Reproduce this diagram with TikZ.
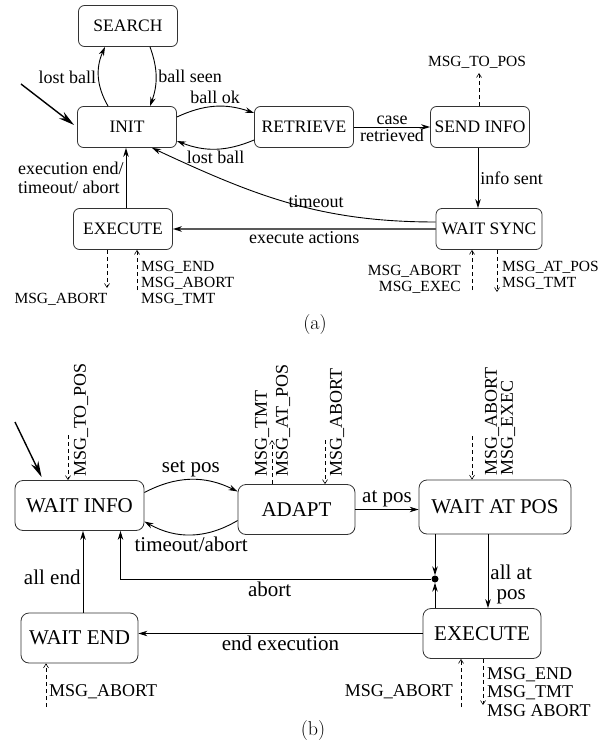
\documentclass[tikz,border=0pt]{standalone}
\usepackage{fontspec}
\newfontfamily\tms{Liberation Serif}
\usetikzlibrary{arrows.meta}

\begin{document}
\begin{tikzpicture}[
    x=1pt, y=-1pt,
    stateA/.style={draw=black!80, line width=0.8pt, rounded corners=6pt, minimum width=99pt, minimum height=41pt, inner xsep=1pt, font=\tms\fontsize{17.5}{20}\selectfont},
    stateB/.style={draw=black!80, line width=0.8pt, rounded corners=8pt, minimum height=50pt, inner xsep=1pt, font=\tms\fontsize{21}{24}\selectfont},
    lblA/.style={inner sep=2pt, font=\tms\fontsize{18}{18.5}\selectfont},
    lblB/.style={inner sep=2pt, font=\tms\fontsize{21}{19.5}\selectfont},
    msgA/.style={inner sep=0pt, font=\tms\fontsize{15.5}{16}\selectfont},
    msgB/.style={inner sep=0pt, font=\tms\fontsize{18}{18.5}\selectfont},
    arrow/.style={-{Stealth[length=9pt, width=5.5pt]}, line width=0.9pt},
    heavy/.style={-{Stealth[length=9pt, width=5.5pt, color=black]}, line width=1.4pt, draw=black!65},
    start/.style={-{Stealth[length=16pt, width=8pt]}, line width=1.4pt},
    msg/.style={-{Straight Barb[length=4pt, width=5pt]}, dash pattern=on 4pt off 3pt, line width=0.6pt},
    joint/.style={circle, fill, inner sep=0pt, minimum size=7pt}
]
    \useasboundingbox (0,0) rectangle (615,754);

    % (a) states
    \node[stateA] (search) at (128,26) {SEARCH};
    \node[stateA] (init) at (127,127) {INIT};
    \node[stateA] (retrieve) at (304,127) {RETRIEVE};
    \node[stateA] (sendinfo) at (480,127) {SEND INFO};
    \node[stateA, minimum width=106pt] (waitsync) at (489,229) {WAIT SYNC};
    \node[stateA] (executea) at (123,229) {EXECUTE};

    % (a) transitions
    \coordinate (starta) at (21,84);
    \draw[start] (starta) -- ([xshift=-3pt, yshift=2pt]init.west);
    \draw[arrow] ([xshift=-19pt]init.north) to[bend left=27] node[lblA, left] (lostballa) {lost ball} ([xshift=-23pt]search.south);
    \draw[arrow] ([xshift=22pt]search.south) to[bend left=20] node[lblA, right] (ballseen) {ball seen} ([xshift=23pt]init.north);
    \draw[arrow] ([yshift=10pt]init.east) to[bend left=22] node[lblA, above] (ballok) {ball ok} ([yshift=14pt]retrieve.west);
    \draw[arrow] ([yshift=-13pt]retrieve.west) to[bend left=22] node[lblA, below] (lostballb) {lost ball} ([yshift=-14pt]init.east);
    \draw[arrow] (retrieve) -- node[lblA, above] (caselbl) {case} node[lblA, below] (retrievedlbl) {retrieved} (sendinfo);
    \draw[arrow] ([xshift=-2pt]sendinfo.south) -- node[lblA, right] (infosent) {info sent} ([xshift=-2pt]sendinfo.south |- waitsync.north);
    \draw[arrow] ([yshift=7pt]waitsync.west) to[out=180, in=-25] node[lblA, above, pos=0.4] (timeouta) {timeout} ([xshift=25pt]init.south);
    \draw[heavy] (waitsync.west) -- node[lblA, below] (execactions) {execute actions} (executea.east);
    \draw[arrow] ([xshift=3pt]executea.north) -- node[lblA, left, align=left] (execend) {execution end/\\timeout/ abort} ([xshift=3pt]executea.north |- init.south);

    % (a) messages
    \coordinate (sendout) at (479,73);
    \draw[msg] (sendinfo.north -| sendout) -- (sendout);
    \node[msgA] (msgtopos) at (477,62) {MSG\_TO\_POS};
    \coordinate (exaout) at (107,288);
    \draw[msg] (executea.south -| exaout) -- (exaout);
    \node[msgA] (exaoutlbl) at (61,299) {MSG\_ABORT};
    \coordinate (exain) at (137,290);
    \draw[msg] (exain) -- (exain |- executea.south);
    \node[msgA, anchor=west, align=left] (exainlbl) at (141,283) {MSG\_END\\MSG\_ABORT\\MSG\_TMT};
    \coordinate (wsin) at (472,290);
    \draw[msg] (wsin) -- (wsin |- waitsync.south);
    \node[msgA, anchor=east, align=right] (wsinlbl) at (461,279.5) {MSG\_ABORT\\MSG\_EXEC};
    \coordinate (wsout) at (497,292);
    \draw[msg] (waitsync.south -| wsout) -- (wsout);
    \node[msgA, anchor=west, align=left] (wsoutlbl) at (502,275) {MSG\_AT\_POS\\MSG\_TMT};

    \node[font=\fontsize{20}{24}\selectfont] (capa) at (315,325) {(a)};

    % (b) states
    \node[stateB, minimum width=129pt] (waitinfo) at (79.5,505.5) {WAIT INFO};
    \node[stateB, minimum width=117pt] (adapt) at (296.5,509.5) {ADAPT};
    \node[stateB, minimum width=152pt, minimum height=54pt] (waitpos) at (495,507) {WAIT AT POS};
    \node[stateB, minimum width=117pt] (waitend) at (79.5,638) {WAIT END};
    \node[stateB, minimum width=118pt] (executeb) at (482,633.5) {EXECUTE};
    \node[joint] (join) at (435,579) {};

    % (b) transitions
    \coordinate (startb) at (15,422);
    \draw[start] (startb) -- ([xshift=27pt, yshift=3pt]waitinfo.north west);
    \draw[arrow] ([yshift=13pt]waitinfo.east) to[bend left=27] node[lblB, above] (setpos) {set pos} ([yshift=18pt]adapt.west);
    \draw[arrow] ([yshift=-11pt]adapt.west) to[bend left=30] node[lblB, below] (timeoutb) {timeout/abort} ([yshift=-16pt]waitinfo.east);
    \draw[arrow] (adapt.east) -- node[lblB, above] (atpos) {at pos} (adapt.east -| waitpos.west);
    \draw[arrow] (waitpos.south -| join) -- (join);
    \draw[arrow] (executeb.north -| join) -- (join);
    \draw[arrow] (join) -| node[lblB, below, pos=0.26] (abortlbl) {abort} ([xshift=41pt]waitinfo.south);
    \draw[arrow] ([xshift=-7pt]waitpos.south) -- node[lblB, right, align=center, pos=0.68] (allatpos) {all at\\pos} ([xshift=-7pt]waitpos.south |- executeb.north);
    \draw[arrow] (executeb.west) -- node[lblB, below] (endexec) {end execution} (executeb.west -| waitend.east);
    \draw[arrow] ([xshift=3.5pt]waitend.north) -- node[lblB, left, pos=0.43] (allend) {all end} ([xshift=3.5pt]waitend.north |- waitinfo.south);

    % (b) messages
    \coordinate (wiin) at (68,435);
    \draw[msg] (wiin) -- (wiin |- waitinfo.north);
    \node[msgB, rotate=90, anchor=west] (wiinlbl) at (81,477) {MSG\_TO\_POS};
    \coordinate (adout) at (272,440);
    \draw[msg] (adapt.north -| adout) -- (adout);
    \node[msgB, rotate=90, anchor=west] (adoutlbla) at (262,477) {MSG\_TMT};
    \node[msgB, rotate=90, anchor=west] (adoutlblb) at (283,477) {MSG\_AT\_POS};
    \coordinate (adin) at (325,440);
    \draw[msg] (adin) -- (adin |- adapt.north);
    \node[msgB, rotate=90, anchor=west] (adinlbl) at (337,477) {MSG\_ABORT};
    \coordinate (wpin) at (472,436);
    \draw[msg] (wpin) -- (wpin |- waitpos.north);
    \node[msgB, rotate=90, anchor=west] (wpinlbla) at (492,476) {MSG\_ABORT};
    \node[msgB, rotate=90, anchor=west] (wpinlblb) at (508,476) {MSG\_EXEC};
    \coordinate (ebin) at (461,707);
    \draw[msg] (ebin) -- (ebin |- executeb.south);
    \node[msgB, anchor=east] (ebinlbl) at (453,692) {MSG\_ABORT};
    \coordinate (ebout) at (483,705);
    \draw[msg] (executeb.south -| ebout) -- (ebout);
    \node[msgB, anchor=west, align=left] (eboutlbl) at (487,692) {MSG\_END\\MSG\_TMT\\MSG ABORT};
    \coordinate (wein) at (46,707);
    \draw[msg] (wein) -- (wein |- waitend.south);
    \node[msgB, anchor=west] (weinlbl) at (49,692) {MSG\_ABORT};

    \node[font=\fontsize{20}{24}\selectfont] (capb) at (313,731) {(b)};
\end{tikzpicture}
\end{document}
